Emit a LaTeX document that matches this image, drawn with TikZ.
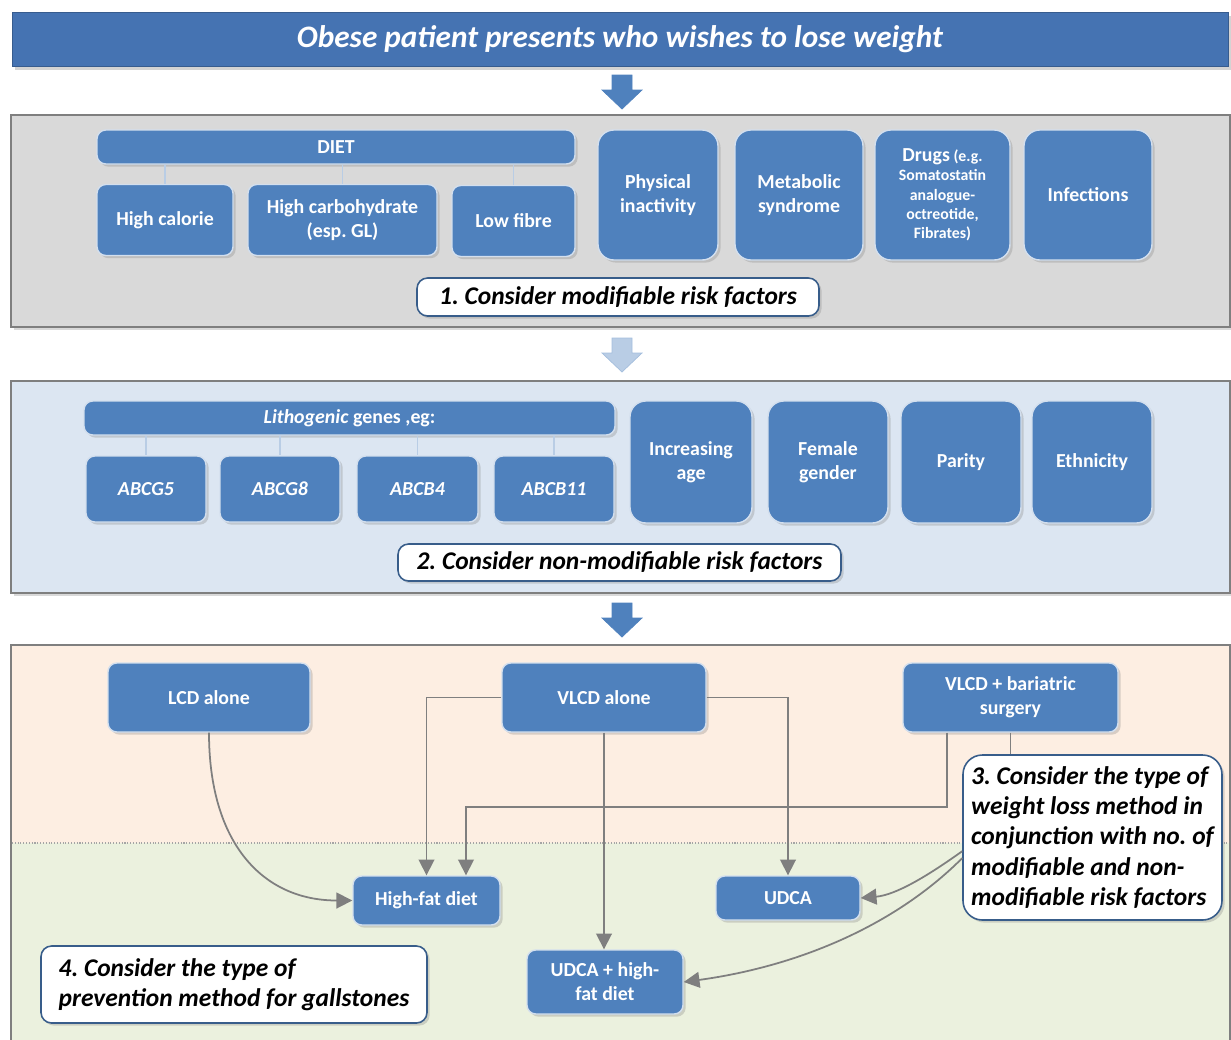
\documentclass[tikz,border=0pt]{standalone}
\usepackage{fontspec}
\setmainfont{Carlito}
\usetikzlibrary{shadows,arrows.meta}
\definecolor{boxblue}{RGB}{79,129,189}
\definecolor{titleblue}{RGB}{69,115,178}
\definecolor{paleblue}{RGB}{185,205,229}
\definecolor{panelgray}{RGB}{217,217,217}
\definecolor{panelblue}{RGB}{220,230,242}
\definecolor{panelpeach}{RGB}{253,238,226}
\definecolor{panelgreen}{RGB}{235,241,222}
\definecolor{linegray}{RGB}{127,127,127}
\definecolor{edgeblue}{RGB}{56,93,138}
\frenchspacing
% block arrow between panels: x, top y, colours
\newcommand{\panelarrow}[3]{%
  \draw[#3] (#1,#2) ++(-10,0) -- ++(20,0) -- ++(0,15) -- ++(10,0) -- ++(-20,19) -- ++(-20,-19) -- ++(10,0) -- cycle;}
\begin{document}
\begin{tikzpicture}[x=0.02cm,y=-0.02cm,
    box/.style={draw=white!75!boxblue,line width=0.8pt,fill=boxblue,rounded corners=5pt,text=white,
      font=\fontsize{11.3}{13.6}\selectfont\bfseries,align=center,inner sep=2pt,
      drop shadow={opacity=0.3,shadow xshift=1.5pt,shadow yshift=-1.5pt}},
    tall/.style={box,rounded corners=9pt},
    gene/.style={box,font=\fontsize{11.3}{13.6}\selectfont\bfseries\itshape},
    wh/.style 2 args={minimum width=#1*0.02cm,minimum height=#2*0.02cm},
    steplabel/.style={draw=edgeblue,line width=0.9pt,fill=white,rounded corners=6pt,
      font=\fontsize{14.5}{17.2}\selectfont\bfseries\itshape,inner sep=3pt,
      drop shadow={opacity=0.3,shadow xshift=1.5pt,shadow yshift=-1.5pt}},
    panel/.style={draw=linegray,line width=0.8pt,drop shadow={opacity=0.3,shadow xshift=1.5pt,shadow yshift=-1.5pt}},
    tie/.style={draw=paleblue,line width=0.8pt},
    link/.style={draw=linegray,line width=1pt,-{Triangle[length=9pt,width=9pt]}}]
  \useasboundingbox (0,0) rectangle (1231,1039);
  %% title
  \node[fill=titleblue,draw=titleblue!80!black,text=white,wh={1216}{54},inner sep=0pt,
    font=\fontsize{17.8}{21}\selectfont\bfseries\itshape,
    drop shadow={opacity=0.35,shadow xshift=1.5pt,shadow yshift=-2pt}] (title) at (620,39)
    {Obese patient presents who wishes to lose weight};
  \panelarrow{622}{75}{fill=boxblue,draw=boxblue}
  %% modifiable risk factors
  \draw[panel,fill=panelgray] (11,115) rectangle (1230,327);
  \node[box,wh={478}{34}] (diet) at (336,147) {DIET};
  \node[box,wh={136}{71}] (hical) at (165,220) {High calorie};
  \node[box,wh={189}{71}] (hicarb) at (342.5,220) {High carbohydrate\\(esp. GL)};
  \node[box,wh={123}{71}] (lowfib) at (513.5,221) {Low fibre};
  \foreach \n in {hical,hicarb,lowfib}
    \draw[tie] (diet.south -| \n.north) -- (\n.north);
  \node[tall,wh={120}{130}] (phys) at (658,195) {Physical\\inactivity};
  \node[tall,wh={128}{130}] (metab) at (799,195) {Metabolic\\syndrome};
  \node[tall,wh={135}{130},font=\fontsize{9}{11}\selectfont\bfseries] (drugs) at (942.5,195)
    {{\fontsize{11.3}{12}\selectfont Drugs} (e.g.\\Somatostatin\\analogue-\\octreotide,\\Fibrates)};
  \node[tall,wh={128}{130}] (infec) at (1088,195) {Infections};
  \node[steplabel,wh={402}{38}] (step1) at (618,297) {1. Consider modifiable risk factors};
  \panelarrow{622}{338}{fill=paleblue,draw=paleblue!80!boxblue}
  %% non-modifiable risk factors
  \draw[panel,fill=panelblue] (11,381) rectangle (1230,593);
  \node[box,wh={531}{34}] (litho) at (349.5,418) {\textit{Lithogenic} genes ,eg:};
  \node[gene,wh={120}{66}] (abcgA) at (146,489) {ABCG5};
  \node[gene,wh={120}{66}] (abcgB) at (280,489) {ABCG8};
  \node[gene,wh={121}{66}] (abcbA) at (417.5,489) {ABCB4};
  \node[gene,wh={120}{66}] (abcbB) at (554,489) {ABCB11};
  \foreach \n in {abcgA,abcgB,abcbA,abcbB}
    \draw[tie] (litho.south -| \n.north) -- (\n.north);
  \node[tall,wh={122}{122}] (age) at (691,462) {Increasing\\age};
  \node[tall,wh={120}{122}] (female) at (828,462) {Female\\gender};
  \node[tall,wh={120}{122}] (parity) at (961,462) {Parity};
  \node[tall,wh={120}{122}] (ethnic) at (1092,462) {Ethnicity};
  \node[steplabel,wh={443}{37}] (step2) at (619.5,562.5) {2. Consider non-modifiable risk factors};
  \panelarrow{622}{603}{fill=boxblue,draw=boxblue}
  %% weight loss method and prevention
  \draw[panel,fill=panelpeach] (11,645) rectangle (1230,1045);
  \fill[panelgreen] (12,843) rectangle (1229,1045);
  \draw[linegray!70,densely dotted,line width=0.6pt] (12,843) -- (1229,843);
  \node[box,wh={202}{69}] (lcd) at (209,697.5) {LCD alone};
  \node[box,wh={204}{69}] (vlcd) at (604,697.5) {VLCD alone};
  \node[box,wh={215}{69}] (bari) at (1010.5,697.5) {VLCD + bariatric\\surgery};
  \node[box,wh={147}{49}] (hfd) at (426.5,900.5) {High-fat diet};
  \node[box,wh={144}{44}] (udca) at (788,898) {UDCA};
  \node[box,wh={156}{64}] (udhf) at (605,982) {UDCA + high-\\fat diet};
  \node[steplabel,wh={259}{165},rounded corners=11pt,align=left] (step3) at (1092.5,837.5)
    {3. Consider the type of\\weight loss method in\\conjunction with no. of\\modifiable and non-\\modifiable risk factors};
  \node[steplabel,wh={386}{77},align=left] (step4) at (234,984.5)
    {4. Consider the type of\\prevention method for gallstones};
  \coordinate (bariout) at ([xshift=-1.27cm]bari.south);
  \coordinate (hfdin) at ([xshift=0.79cm]hfd.north);
  \draw[link] (lcd.south) .. controls +(0,110) and +(-90,0) .. (hfd.west);
  \draw[link] (vlcd.west) -| (hfd.north);
  \draw[link] (vlcd.east) -| (udca.north);
  \draw[link] (vlcd.south) -- (vlcd.south |- udhf.north);
  \draw[link] (bariout) -- ++(0,74) -| (hfdin);
  \draw[draw=linegray,line width=1pt] (bari.south) -- (bari.south |- step3.north);
  \draw[link] (step3.186) .. controls +(-35,25) and +(35,-3) .. (udca.east);
  \draw[link] (step3.189) .. controls +(-70,70) and +(110,-15) .. (udhf.east);
\end{tikzpicture}
\end{document}
